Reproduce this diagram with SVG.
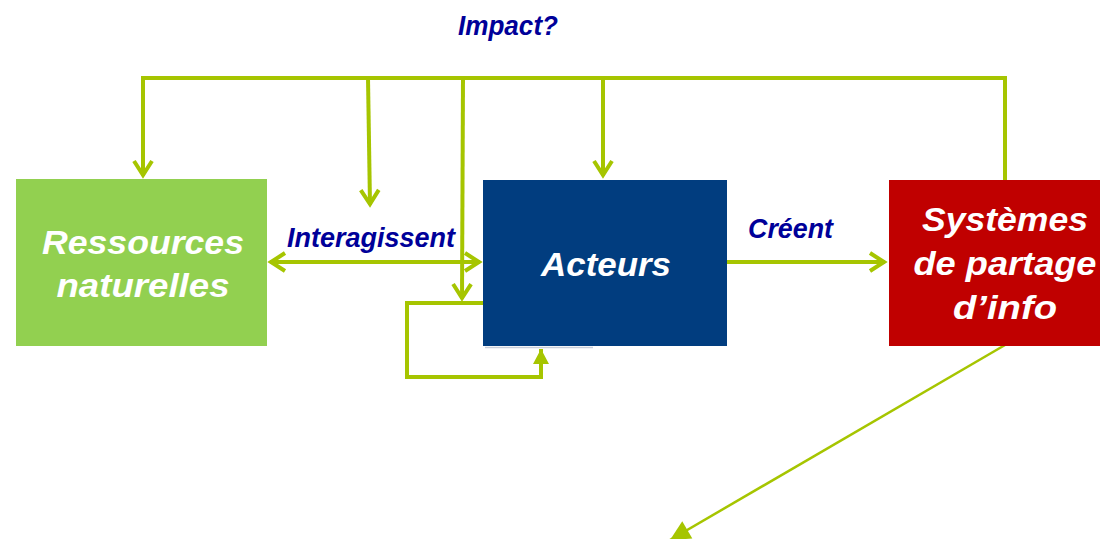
<svg xmlns="http://www.w3.org/2000/svg" width="1100" height="539" viewBox="0 0 1100 539">
  <style>
    .box-label { font-family: "Liberation Sans", Arial, sans-serif; font-weight: bold; font-style: italic; font-size: 34px; fill: #ffffff; text-anchor: middle; }
    .edge-label { font-family: "Liberation Sans", Arial, sans-serif; font-weight: bold; font-style: italic; font-size: 28px; fill: #000099; }
    .wire { fill: none; stroke: #A6C500; stroke-width: 4; stroke-linejoin: miter; }
    .thin { fill: none; stroke: #A6C500; stroke-width: 2.5; }
  </style>
  <defs>
    <!-- open chevron head -->
    <marker id="chev" markerUnits="userSpaceOnUse" markerWidth="30" markerHeight="30" viewBox="-20 -15 30 30" refX="0" refY="0" orient="auto-start-reverse" overflow="visible">
      <path d="M-15,-9 L-1,0 L-15,9" fill="none" stroke="#A6C500" stroke-width="4" stroke-linejoin="miter"/>
    </marker>
    <!-- solid triangle head -->
    <marker id="tri" markerUnits="userSpaceOnUse" markerWidth="30" markerHeight="30" viewBox="-20 -15 30 30" refX="0" refY="0" orient="auto" overflow="visible">
      <path d="M0,0 L-15,-8 L-15,8 Z" fill="#A6C500"/>
    </marker>
    <marker id="tri-big" markerUnits="userSpaceOnUse" markerWidth="30" markerHeight="30" viewBox="-20 -15 30 30" refX="0" refY="0" orient="auto" overflow="visible">
      <path d="M0,0 L-20,-10 L-20,10 Z" fill="#A6C500"/>
    </marker>
  </defs>

  <rect width="1100" height="539" fill="#ffffff"/>

  <g id="connectors">
    <!-- top bus and drops -->
    <path class="wire" d="M1005,180 L1005,78 L143,78 L143,176" marker-end="url(#chev)"/>
    <path class="wire" d="M368,78 L370,205" marker-end="url(#chev)"/>
    <path class="wire" d="M463,78 L462,299" marker-end="url(#chev)"/>
    <path class="wire" d="M603,78 L603,176" marker-end="url(#chev)"/>
    <!-- two-way link between resources and actors -->
    <path class="wire" d="M270,262 L480,262" marker-start="url(#chev)" marker-end="url(#chev)"/>
    <!-- actors create info systems -->
    <path class="wire" d="M727,262 L885,262" marker-end="url(#chev)"/>
    <!-- self loop on actors -->
    <path class="wire" d="M483,303 L407,303 L407,377 L541,377 L541,349" marker-end="url(#tri)"/>
    <!-- outgoing diagonal -->
    <path class="thin" d="M1005,345 L670,540" marker-end="url(#tri-big)"/>
  </g>

  <g id="node-ressources">
    <rect x="16" y="179" width="251" height="167" fill="#92D050"/>
    <text class="box-label" x="143" y="254" textLength="202" lengthAdjust="spacingAndGlyphs">Ressources</text>
    <text class="box-label" x="143" y="297" textLength="173" lengthAdjust="spacingAndGlyphs">naturelles</text>
  </g>

  <g id="node-acteurs">
    <rect x="483" y="180" width="244" height="166" fill="#013D7F"/>
    <line x1="485" y1="347.5" x2="593" y2="347.5" stroke="#C9CED9" stroke-width="1.5"/>
    <text class="box-label" x="606" y="276" textLength="130" lengthAdjust="spacingAndGlyphs">Acteurs</text>
  </g>

  <g id="node-systemes">
    <rect x="889" y="180" width="211" height="166" fill="#C00000"/>
    <text class="box-label" x="1005" y="231" textLength="166" lengthAdjust="spacingAndGlyphs">Systèmes</text>
    <text class="box-label" x="1005" y="275" textLength="183" lengthAdjust="spacingAndGlyphs">de partage</text>
    <text class="box-label" x="1005" y="319" textLength="104" lengthAdjust="spacingAndGlyphs">d’info</text>
  </g>

  <g id="labels">
    <text class="edge-label" x="458" y="35" textLength="100" lengthAdjust="spacingAndGlyphs">Impact?</text>
    <text class="edge-label" x="287" y="247" textLength="168" lengthAdjust="spacingAndGlyphs">Interagissent</text>
    <text class="edge-label" x="748" y="238" textLength="85" lengthAdjust="spacingAndGlyphs">Créent</text>
  </g>
</svg>
